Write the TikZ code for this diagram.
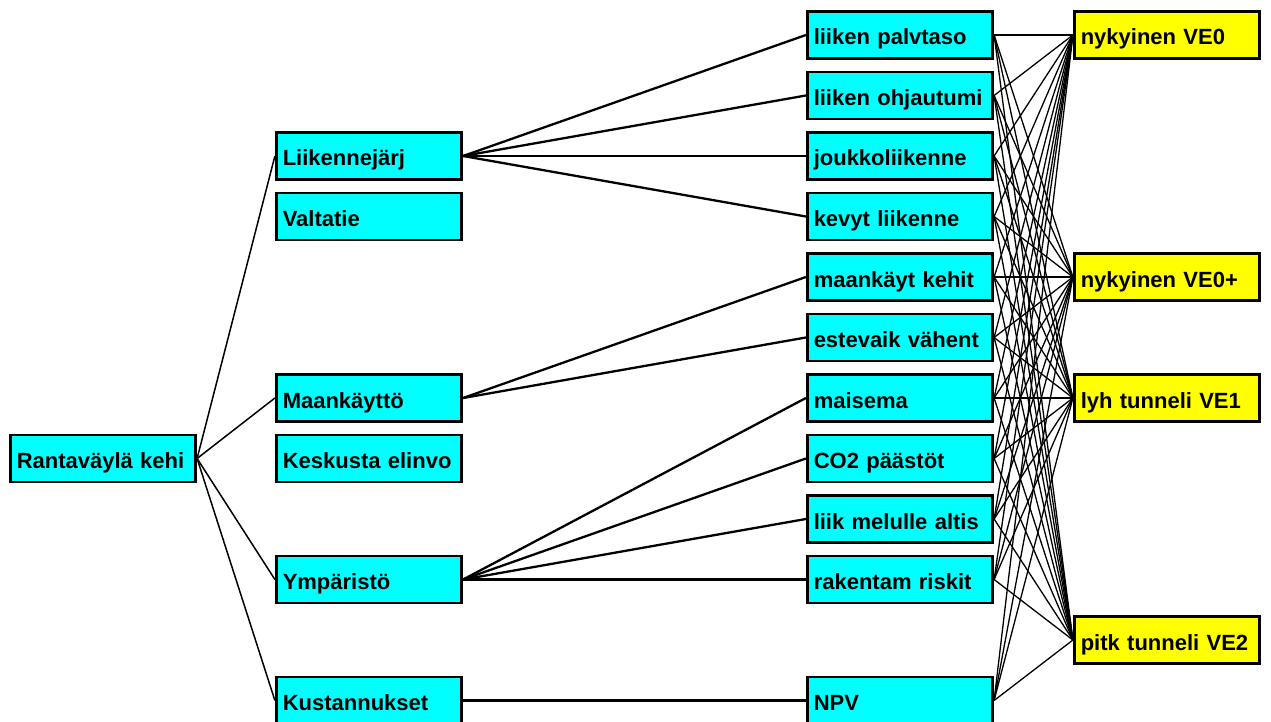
\documentclass[tikz,border=0pt]{standalone}
\usepackage{fontspec}
\setmainfont{Liberation Sans}
\definecolor{critfill}{RGB}{0,255,255}
\definecolor{altfill}{RGB}{255,255,0}
\begin{document}
\begin{tikzpicture}[x=1pt,y=-1pt,
  box/.style={draw=black, line width=2.7pt, text width=172.5pt, inner xsep=6.5pt,
    inner ysep=0pt, minimum height=47pt, align=left, text height=20pt, text depth=0pt,
    font=\fontsize{22}{24}\selectfont\bfseries},
  crit/.style={box, fill=critfill},
  alt/.style={box, fill=altfill},
  toplink/.style={line width=1.5pt},
  midlink/.style={line width=2.3pt},
  altlink/.style={line width=1.3pt}]
\useasboundingbox (0,0) rectangle (1271,722);
\clip (0,0) rectangle (1271,722);
% row pitch 60.5, first row at 35
\def\r#1{35+60.5*#1}
% goal
\node[crit] (goal) at (103,{\r{7}}) {Rantaväylä kehi};
% main criteria
\node[crit] (lj) at (369,{\r{2}}) {Liikennejärj};
\node[crit] (vt) at (369,{\r{3}}) {Valtatie};
\node[crit] (mk) at (369,{\r{6}}) {Maankäyttö};
\node[crit] (ke) at (369,{\r{7}}) {Keskusta elinvo};
\node[crit] (ym) at (369,{\r{9}}) {Ympäristö};
\node[crit] (ku) at (369,{\r{11}}) {Kustannukset};
% sub-criteria
\node[crit] (s0) at (900,{\r{0}}) {liiken palvtaso};
\node[crit] (s1) at (900,{\r{1}}) {liiken ohjautumi};
\node[crit] (s2) at (900,{\r{2}}) {joukkoliikenne};
\node[crit] (s3) at (900,{\r{3}}) {kevyt liikenne};
\node[crit] (s4) at (900,{\r{4}}) {maankäyt kehit};
\node[crit] (s5) at (900,{\r{5}}) {estevaik vähent};
\node[crit] (s6) at (900,{\r{6}}) {maisema};
\node[crit] (s7) at (900,{\r{7}}) {CO2 päästöt};
\node[crit] (s8) at (900,{\r{8}}) {liik melulle altis};
\node[crit] (s9) at (900,{\r{9}}) {rakentam riskit};
\node[crit] (s10) at (900,{\r{11}}) {NPV};
% alternatives
\node[alt] (a0) at (1167,{\r{0}}) {nykyinen VE0};
\node[alt] (a1) at (1167,{\r{4}}) {nykyinen VE0+};
\node[alt] (a2) at (1167,{\r{6}}) {lyh tunneli VE1};
\node[alt] (a3) at (1167,{\r{10}}) {pitk tunneli VE2};
% goal to main criteria
\foreach \m in {lj,mk,ym,ku}
  \draw[toplink] (goal.east) -- (\m.west);
% main criteria to sub-criteria
\foreach \s in {s0,s1,s2,s3}
  \draw[midlink] (lj.east) -- (\s.west);
\foreach \s in {s4,s5}
  \draw[midlink] (mk.east) -- (\s.west);
\foreach \s in {s6,s7,s8,s9}
  \draw[midlink] (ym.east) -- (\s.west);
\draw[midlink] (ku.east) -- (s10.west);
% sub-criteria to every alternative
\foreach \s in {s0,s1,s2,s3,s4,s5,s6,s7,s8,s9,s10}
  \foreach \a in {a0,a1,a2,a3}
    \draw[altlink] (\s.east) -- (\a.west);
\end{tikzpicture}
\end{document}
